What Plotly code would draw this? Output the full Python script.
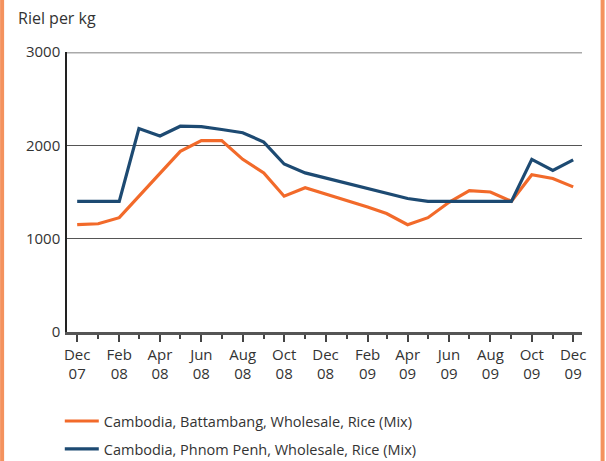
import plotly.graph_objects as go

# monthly data, Dec 2007 - Dec 2009
months = ["2007-12-01", "2008-01-01", "2008-02-01", "2008-03-01", "2008-04-01",
          "2008-05-01", "2008-06-01", "2008-07-01", "2008-08-01", "2008-09-01",
          "2008-10-01", "2008-11-01", "2008-12-01", "2009-01-01", "2009-02-01",
          "2009-03-01", "2009-04-01", "2009-05-01", "2009-06-01", "2009-07-01",
          "2009-08-01", "2009-09-01", "2009-10-01", "2009-11-01", "2009-12-01"]

battambang = [1150, 1160, 1225, 1460, 1700, 1935, 2050, 2050, 1850, 1705,
              1455, 1545, 1480, 1410, 1340, 1270, 1150, 1225, 1390, 1515,
              1500, 1400, 1685, 1645, 1555]

phnom_penh = [1400, 1400, 1400, 2180, 2100, 2205, 2200, 2170, 2135, 2035,
              1800, 1705, 1650, 1590, 1535, 1480, 1430, 1400, 1400, 1400,
              1400, 1400, 1850, 1730, 1845]

name_btb = "Cambodia, Battambang, Wholesale, Rice (Mix)"
name_pp = "Cambodia, Phnom Penh, Wholesale, Rice (Mix)"

orange = "#F26a2a"
navy = "#1d4a72"
font = "Open Sans"

fig = go.Figure()
fig.add_trace(go.Scatter(x=months, y=battambang, name=name_btb, mode="lines",
                         legendgroup="a", line=dict(color=orange, width=3.2)))
fig.add_trace(go.Scatter(x=months, y=phnom_penh, name=name_pp, mode="lines",
                         legendgroup="b", line=dict(color=navy, width=3.2)))

fig.update_layout(
    width=606, height=461,
    margin=dict(l=67, r=24, t=52, b=129, autoexpand=False),
    paper_bgcolor="white", plot_bgcolor="white",
    font=dict(family=font, size=15, color="#333"),
    showlegend=True,
    legend=dict(orientation="v", x=-0.014, xanchor="left", y=-0.261, yanchor="top",
                font=dict(size=14.5, color="#333"), tracegroupgap=6,
                itemwidth=34),
)

fig.update_xaxes(
    type="date",
    range=["2007-11-16", "2009-12-14"],
    tickvals=months[::2],
    tickformat="%b<br>%y",
    ticks="outside", ticklen=7, tickcolor="#444", tickwidth=1.5,
    minor=dict(dtick="M1", ticks="outside", ticklen=4, tickcolor="#444", tickwidth=1.5),
    showline=True, linecolor="#555", linewidth=2.5,
    showgrid=False, zeroline=False,
    tickfont=dict(size=15, color="#333"),
)

fig.update_yaxes(
    range=[0, 3000],
    tickvals=[0, 1000, 2000, 3000],
    showline=True, linecolor="#222", linewidth=1.5,
    showgrid=True, gridcolor="#555", gridwidth=1,
    zeroline=False,
    ticks="", ticklabelstandoff=2,
    tickfont=dict(size=15, color="#333"),
)

# lighter top rule at 3000
fig.add_shape(type="line", xref="paper", yref="y", x0=0, x1=1, y0=3000, y1=3000,
              line=dict(color="#aaaaaa", width=3))

# orange frame at the picture edges
fig.add_shape(type="rect", xref="paper", yref="paper",
              x0=-0.126, x1=1.04, y0=-0.6, y1=1.3,
              line=dict(color="#F4925e", width=4), layer="above")

fig.add_annotation(text="Riel per kg", xref="paper", yref="paper",
                   x=-0.1, y=1.12, xanchor="left", yanchor="middle",
                   showarrow=False, font=dict(size=16, color="#333"))

# drop the page's default body margin so the figure sits at the window corner
fig.write_html("out.html", config={"displayModeBar": False},
               post_script="document.body.style.margin='0px';")
